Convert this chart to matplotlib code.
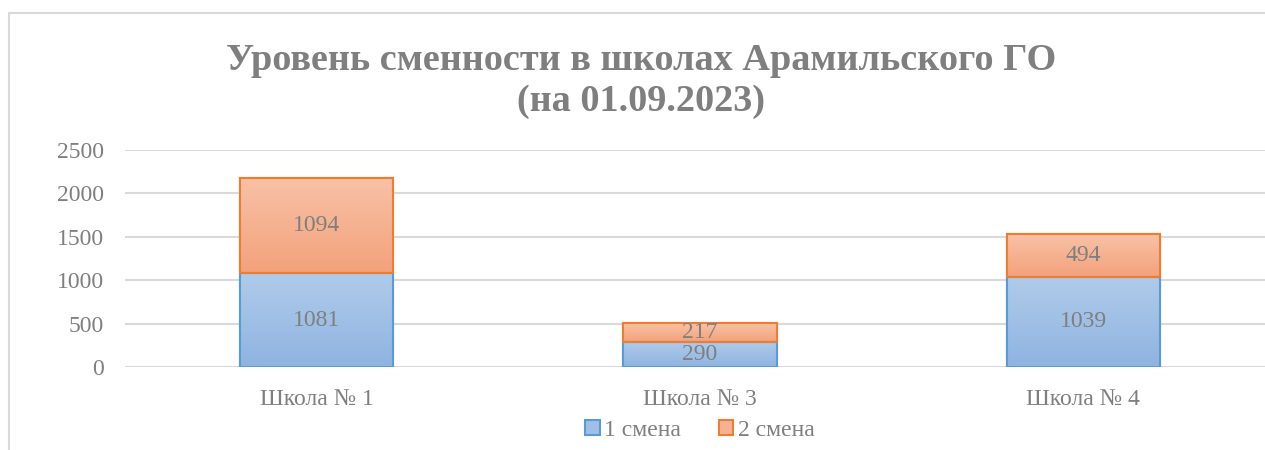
import numpy as np
import matplotlib.pyplot as plt
from matplotlib.patches import Rectangle, Patch
from matplotlib.colors import LinearSegmentedColormap

schools = ["Школа № 1", "Школа № 3", "Школа № 4"]
shift1 = [1081, 290, 1039]
shift2 = [1094, 217, 494]
series_names = ["1 смена", "2 смена"]
title = "Уровень сменности в школах Арамильского ГО\n(на 01.09.2023)"

GRAY = "#7f7f7f"
plt.rcParams["font.family"] = ["Liberation Serif", "DejaVu Serif"]

fig = plt.figure(figsize=(12.65, 4.5), dpi=100)
ax = fig.add_axes([125 / 1265, 83 / 450, 1 - 125 / 1265, 217 / 450])

x = np.arange(len(schools))
b1 = ax.bar(x, shift1, width=0.4, color="#a0bfe6", edgecolor="#5b9bd5", linewidth=1.5, zorder=3)
b2 = ax.bar(x, shift2, bottom=shift1, width=0.4, color="#f5b293", edgecolor="#ed7d31",
            linewidth=1.5, zorder=3)

# vertical gradient fill like the Excel original
grads = {
    "b1": LinearSegmentedColormap.from_list("g1", ["#8fb4e1", "#b0cbea"]),
    "b2": LinearSegmentedColormap.from_list("g2", ["#f3a27b", "#f8c1a6"]),
}
grad = np.linspace(0, 1, 64).reshape(-1, 1)
for bars, cm in ((b1, grads["b1"]), (b2, grads["b2"])):
    for b in bars:
        x0, y0, w, h = b.get_x(), b.get_y(), b.get_width(), b.get_height()
        im = ax.imshow(grad, cmap=cm, origin="lower", aspect="auto",
                       extent=(x0, x0 + w, y0, y0 + h), zorder=3.5)
        im.set_clip_path(b)
        # redraw the outline on top of the gradient
        ax.add_patch(Rectangle((x0, y0), w, h, fill=False, edgecolor=b.get_edgecolor(),
                               linewidth=1.5, zorder=4))

ax.bar_label(b1, label_type="center", color=GRAY, fontsize=17, zorder=5)
ax.bar_label(b2, label_type="center", color=GRAY, fontsize=17, zorder=5)

ax.set_xlim(-0.5, 2.474)
ax.set_ylim(0, 2500)
ax.set_yticks(np.arange(0, 2501, 500))
ax.set_xticks(x)
ax.set_xticklabels(schools)
ax.tick_params(axis="both", length=0, colors=GRAY, labelsize=17)
ax.tick_params(axis="y", pad=15)
ax.tick_params(axis="x", pad=16)
ax.grid(axis="y", color="#d9d9d9", linewidth=1.5, zorder=0)
for s in ax.spines.values():
    s.set_visible(False)
ax.axhline(0, color="#d9d9d9", linewidth=1.5, zorder=1)

fig.text(641 / 1265, 1 - 81 / 450, title, ha="center", va="center", fontsize=27.5,
         fontweight="bold", color=GRAY, linespacing=1.25)

handles = [Patch(facecolor="#a0bfe6", edgecolor="#5b9bd5", linewidth=1.5),
           Patch(facecolor="#f5b293", edgecolor="#ed7d31", linewidth=1.5)]
leg = fig.legend(handles, series_names, loc="center", bbox_to_anchor=(700 / 1265, 1 - 430 / 450),
                 ncol=2, frameon=False, fontsize=17, handlelength=0.6, handleheight=0.6,
                 handletextpad=0.2, columnspacing=1.6, labelcolor=GRAY)

# chart-area border (only left and top visible in the crop)
fig.patches.append(Rectangle((9 / 1265, -0.1), 1.2, 1.1 - 13 / 450, transform=fig.transFigure,
                             fill=False, edgecolor="#d9d9d9", linewidth=1.5))

fig.savefig("out.png", dpi=100)
